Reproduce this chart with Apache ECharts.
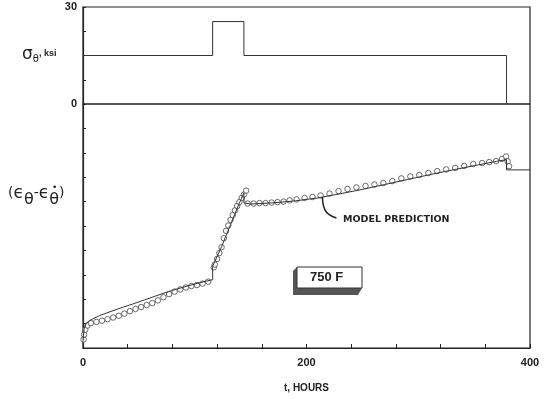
<!DOCTYPE html>
<html><head><meta charset="utf-8">
<script src="https://cdn.jsdelivr.net/npm/echarts@6/dist/echarts.min.js"></script>
<style>html,body{margin:0;padding:0;background:#fff}#c{width:553px;height:399px}</style>
</head><body><div id="c"></div>
<script>
// ---- data ----
var stressSteps = [[0,15],[116,15],[116,25.5],[144,25.5],[144,15],[379,15],[379,0]];
var measHours = [0.5,1,2,4,7,12,17,22,27,32,37,42,47,52,57,62,67,72,77,82,87,92,97,102,107,112,
  117,118,120,122,124,126,128,130,132,134,136,138,140,142,144,146,
  147.3,152.7,158,163.4,168.8,174.1,179.5,184.9,191.1,198.3,205.4,212.6,220.6,228.7,236.7,244.7,252.8,260.8,268.8,276.8,284.9,292.9,300.9,309,317,325,333.1,341.1,349.2,357.2,363.5,369.7,375,378.6,380,381.3];
var measStrain = [0.35,0.55,0.75,0.92,1.02,1.07,1.12,1.18,1.25,1.32,1.41,1.51,1.60,1.68,1.76,1.84,1.95,2.08,2.21,2.31,2.40,2.48,2.54,2.58,2.64,2.72,
  3.3,3.42,3.65,3.89,4.13,4.5,4.8,5.02,5.25,5.45,5.64,5.82,5.98,6.15,6.29,6.45,
  5.92,5.92,5.94,5.94,5.96,5.98,6.0,6.05,6.09,6.15,6.19,6.25,6.33,6.43,6.52,6.58,6.64,6.70,6.76,6.84,6.95,7.03,7.09,7.17,7.25,7.32,7.38,7.46,7.54,7.58,7.62,7.66,7.75,7.85,7.65,7.45];
var modelHours = [0,1,3,8,15,25,35,45,55,65,75,85,95,105,116,116,118,120,124,128,132,136,140,144,144,150,170,190,210,230,250,270,290,310,330,350,370,379,379,400];
var modelStrain = [0.3,0.78,1.02,1.18,1.33,1.5,1.66,1.81,1.97,2.13,2.29,2.43,2.56,2.68,2.8,3.35,3.55,3.75,4.15,4.6,5.05,5.5,5.95,6.35,5.95,5.9,5.95,6.03,6.15,6.32,6.5,6.7,6.9,7.1,7.29,7.47,7.65,7.72,7.3,7.3];
var leaderHours = [214.3,216.5,226.8];
var leaderStrain = [6.19,5.66,5.33];
var xTickLabels = {0:'0',200:'200',400:'400'};
var yTopLabels = {0:'0',30:'30'};

function zip(a,b){return a.map(function(v,i){return [v,b[i]];});}
var ink = '#222';
var chart = echarts.init(document.getElementById('c'));
chart.setOption({
  animation:false,
  grid:[
    {left:83,right:23,top:7,height:97,show:true,borderColor:ink,borderWidth:1.2},
    {left:83,right:23,top:104,height:244,show:true,borderColor:ink,borderWidth:1.2}
  ],
  xAxis:[
    {gridIndex:0,type:'value',min:0,max:400,interval:40,axisLine:{show:false},axisTick:{show:false},axisLabel:{show:false},splitLine:{show:false}},
    {gridIndex:1,type:'value',min:0,max:400,interval:40,
      axisLine:{lineStyle:{color:ink,width:1.2}},
      axisTick:{inside:true,length:4,lineStyle:{color:ink}},
      axisLabel:{margin:9,color:ink,fontSize:11,fontWeight:'bold',fontFamily:'Liberation Sans',
        formatter:function(v){return xTickLabels[v]!==undefined?xTickLabels[v]:'';}},
      splitLine:{show:false},
      name:'t, HOURS',nameLocation:'middle',nameGap:35,
      nameTextStyle:{color:ink,fontSize:10,fontWeight:'bold',fontFamily:'Liberation Sans'}}
  ],
  yAxis:[
    {gridIndex:0,type:'value',min:0,max:30,interval:7.5,
      axisLine:{lineStyle:{color:ink,width:1.2}},
      axisTick:{inside:true,length:3,lineStyle:{color:ink}},
      axisLabel:{margin:6,color:ink,fontSize:11,fontWeight:'bold',fontFamily:'Liberation Sans',
        formatter:function(v){return yTopLabels[v]!==undefined?yTopLabels[v]:'';}},
      splitLine:{show:false}},
    {gridIndex:1,type:'value',min:0,max:10,interval:1,
      axisLine:{lineStyle:{color:ink,width:1.2}},
      axisTick:{inside:true,length:3,lineStyle:{color:ink}},
      axisLabel:{show:false},splitLine:{show:false}}
  ],
  series:[
    {type:'line',xAxisIndex:0,yAxisIndex:0,data:stressSteps,symbol:'none',lineStyle:{color:'#333',width:1}},
    {type:'line',xAxisIndex:1,yAxisIndex:1,data:zip(modelHours,modelStrain),symbol:'none',lineStyle:{color:'#333',width:1}},
    {type:'scatter',xAxisIndex:1,yAxisIndex:1,data:zip(measHours,measStrain),symbol:'circle',symbolSize:5.5,
      itemStyle:{color:'#fff',borderColor:'#444',borderWidth:1}},
    {type:'line',xAxisIndex:1,yAxisIndex:1,data:zip(leaderHours,leaderStrain),smooth:true,symbol:'none',lineStyle:{color:ink,width:1.5}}
  ],
  graphic:[
    {type:'text',left:22,top:46,style:{rich:{s:{fontSize:17,fontFamily:'DejaVu Sans',fill:ink},
        b:{fontSize:10,fontFamily:'DejaVu Sans',fill:ink,padding:[10,0,0,0]},
        k:{fontSize:9,fontWeight:'bold',fontFamily:'Liberation Sans',fill:ink,padding:[0,0,2,0]}},
      text:'{s|σ}{b|θ}{k|, ksi}'}},
    {type:'text',left:8,top:185,style:{rich:{p:{fontSize:14,fontFamily:'DejaVu Sans',fill:ink},
        e:{fontSize:17,fontFamily:'DejaVu Sans',fill:ink},
        t:{fontSize:16,fontFamily:'DejaVu Sans',fill:ink,padding:[13,0,0,0]}},
      text:'{p|(}{e|ϵ}{t|θ}{p|-}{e|ϵ}{t|θ}{p|)}'}},
    {type:'text',left:52,top:183,style:{text:'•',fontSize:9,fontFamily:'DejaVu Sans',fill:ink}},
    {type:'text',left:343,top:215,style:{text:'MODEL PREDICTION',fontSize:9.5,fontWeight:'bold',fontFamily:'DejaVu Sans',fill:ink}},
    {type:'polygon',shape:{points:[[297,267],[293,271],[293,295],[358,295],[362,288],[297,288]]},style:{fill:'#555'}},
    {type:'rect',shape:{x:297,y:267,width:65,height:21},style:{fill:'#fff',stroke:'#333',lineWidth:1}},
    {type:'text',left:310,top:271,style:{text:'750 F',fontSize:13,fontWeight:'bold',fontFamily:'Liberation Sans',fill:ink}}
  ]
});
</script></body></html>
